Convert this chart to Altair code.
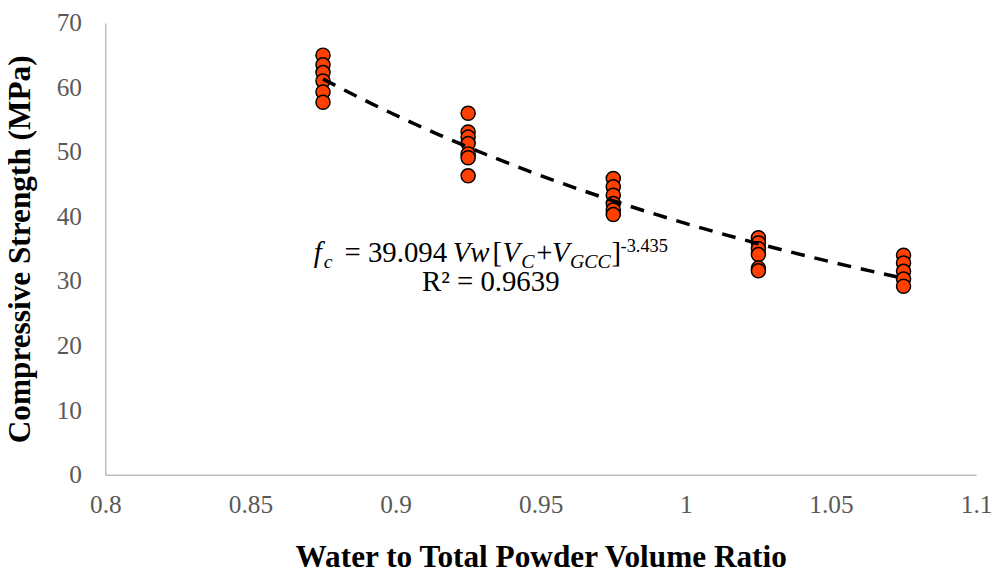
import altair as alt
import pandas as pd

# ---- data ----
WTP_RATIO = [0.875, 0.875, 0.875, 0.875, 0.875, 0.875,
             0.925, 0.925, 0.925, 0.925, 0.925, 0.925, 0.925,
             0.975, 0.975, 0.975, 0.975, 0.975, 0.975,
             1.025, 1.025, 1.025, 1.025, 1.025, 1.025,
             1.075, 1.075, 1.075, 1.075, 1.075]
STRENGTH = [65.0, 63.5, 62.3, 61.0, 59.3, 57.7,
            56.0, 53.1, 52.3, 51.3, 49.7, 49.1, 46.3,
            45.9, 44.6, 43.3, 42.0, 41.0, 40.3,
            36.7, 35.9, 35.0, 34.1, 32.0, 31.6,
            34.0, 32.8, 31.5, 30.3, 29.2]
X_TICKS = [0.8, 0.85, 0.9, 0.95, 1.0, 1.05, 1.1]
Y_TICKS = [0, 10, 20, 30, 40, 50, 60, 70]

# annotation (equation) pieces
ANNOT_X = 0.8718
ANNOT_Y = 32.92
SEG_TEXT = ["f", "c", "= 39.094", "Vw", "[", "V", "C", "+", "V", "GCC", "]", "-3.435", "R² = 0.9639"]
SEG_STYLE = ["italic", "italic", "normal", "italic", "normal", "italic", "italic",
             "normal", "italic", "italic", "normal", "normal", "normal"]
SEG_SIZE = [29, 20, 29, 29, 29, 29, 20, 29, 29, 20, 29, 18.5, 29]
SEG_DX = [0, 10, 31, 140, 180, 190, 209, 224, 240, 258, 300, 309, 109]
SEG_DY = [0, 6, 0, 0, 0, 0, 6, 0, 0, 6, 0, -10, 29]

FONT = "Liberation Serif"

df = pd.DataFrame({"wtp": WTP_RATIO, "fc": STRENGTH})

x_enc = alt.X("wtp:Q",
              scale=alt.Scale(domain=[0.8, 1.1], nice=False, zero=False),
              axis=alt.Axis(values=X_TICKS, format="~g", labelFlush=False, labelOverlap=False,
                            labelPadding=18, titlePadding=24,
                            title="Water to Total Powder Volume Ratio"))
y_enc = alt.Y("fc:Q",
              scale=alt.Scale(domain=[0, 70], nice=False),
              axis=alt.Axis(values=Y_TICKS, labelPadding=24, titlePadding=20,
                            title="Compressive Strength (MPa)"))

points = alt.Chart(df).mark_circle(
    size=200, color="#FF4000", opacity=1, stroke="black", strokeWidth=1.5
).encode(x=x_enc, y=y_enc)

trend = alt.Chart(df).transform_regression(
    "wtp", "fc", method="pow"
).mark_line(color="black", strokeWidth=3.5, strokeDash=[14, 10]).encode(
    x="wtp:Q", y="fc:Q"
)

texts = []
for t, st, sz, dx, dy in zip(SEG_TEXT, SEG_STYLE, SEG_SIZE, SEG_DX, SEG_DY):
    texts.append(
        alt.Chart(df).mark_text(
            text=t, font=FONT, fontSize=sz, fontStyle=st, align="left",
            baseline="alphabetic", dx=dx, dy=dy, color="black"
        ).encode(x=alt.datum(ANNOT_X), y=alt.datum(ANNOT_Y))
        .transform_filter("datum.fc == 65.0")
    )

chart = alt.layer(points, trend, *texts).properties(
    width=877, height=455,
    autosize=alt.AutoSizeParams(type="none"),
    padding={"left": 98, "top": 13, "right": 16, "bottom": 91},
).configure_axis(
    grid=False, ticks=False, domainColor="#BFBFBF", domainWidth=1.5,
    labelFont=FONT, labelFontSize=25.5, labelColor="#595959",
    titleFont=FONT, titleFontSize=31.5, titleFontWeight="bold", titleColor="black",
).configure_view(stroke=None)

chart.save("out.html", embed_options={"renderer": "svg", "actions": False})
